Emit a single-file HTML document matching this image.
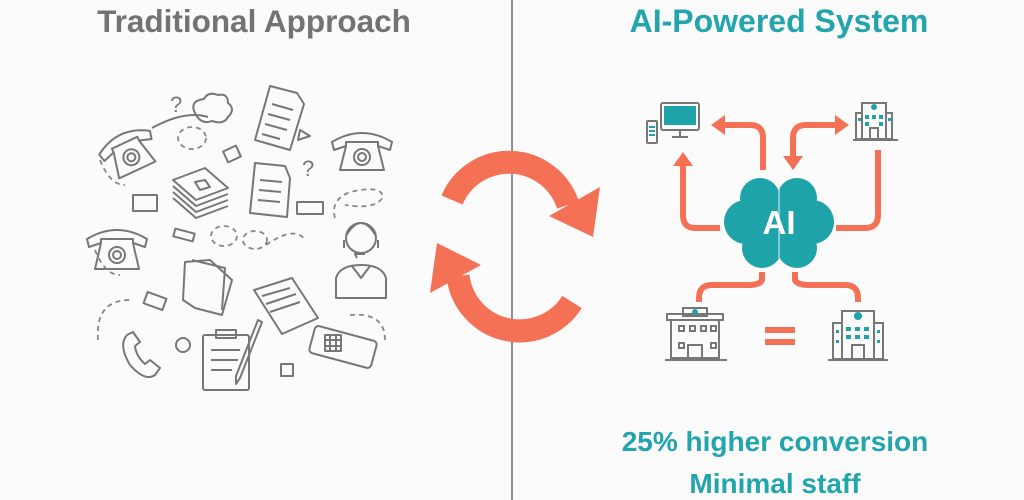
<!DOCTYPE html>
<html><head><meta charset="utf-8"><style>
html,body{margin:0;padding:0;background:#fbfbfb;}
body{width:1024px;height:500px;position:relative;overflow:hidden;font-family:"Liberation Sans",sans-serif;}
.t{position:absolute;font-weight:bold;text-align:center;white-space:nowrap;}
</style></head><body>
<svg width="1024" height="500" style="position:absolute;left:0;top:0">
<line x1="512" y1="0" x2="512" y2="500" stroke="#8c9196" stroke-width="2"/>
<g fill="none" stroke="#f47155" stroke-width="23">
<path d="M452 200 A62 62 0 0 1 568 205"/>
<path d="M572 302 A62 62 0 0 1 458 276"/>
</g>
<g fill="#f47155">
<polygon points="600,187 593,237 549,216"/>
<polygon points="437,243 481,265 430,293"/>
</g>
<g fill="none" stroke="#f47155" stroke-width="6" stroke-linecap="butt">
<path d="M763 170 V138 Q763 125 750 125 H722"/>
<path d="M720 228 H695 Q683 228 683 215 V162"/>
<path d="M793 160 V138 Q793 125 806 125 H838"/>
<path d="M878 150 V215 Q878 228 865 228 H836"/>
<path d="M762 272 V280 Q760 285 748 285 H712 Q699 285 699 298 V302"/>
<path d="M795 272 V280 Q797 285 809 285 H845 Q858 285 858 298 V302"/>
<line x1="765" y1="330" x2="795" y2="330"/><line x1="765" y1="342" x2="795" y2="342"/>
</g>
<g fill="#f47155">
<polygon points="711,125 725,115 725,135"/>
<polygon points="683,152 673,166 693,166"/>
<polygon points="793,170 783,156 803,156"/>
<polygon points="849,125 835,115 835,135"/>
</g>
<g fill="#1ea3a8">
<circle cx="760" cy="198" r="20"/><circle cx="797" cy="198" r="20"/>
<circle cx="746" cy="222" r="22"/><circle cx="812" cy="222" r="22"/>
<circle cx="762" cy="248" r="20"/><circle cx="797" cy="248" r="20"/>
<circle cx="779" cy="222" r="28"/>
</g>
<line x1="779" y1="188" x2="779" y2="258" stroke="#fff" stroke-width="1.5" opacity=".6"/>
<text x="779" y="234" font-family="Liberation Sans" font-weight="bold" font-size="33" fill="#fff" text-anchor="middle">AI</text>
<g fill="none" stroke="#777" stroke-width="2">
<rect x="661" y="103" width="38" height="27" rx="2"/><line x1="672" y1="137" x2="688" y2="137"/><line x1="680" y1="130" x2="680" y2="137"/>
<rect x="647" y="121" width="10" height="22" rx="1"/>
</g>
<rect x="664" y="106" width="32" height="19" fill="#1ea3a8"/>
<g fill="#1ea3a8"><rect x="649" y="126" width="6" height="2"/><rect x="649" y="130" width="6" height="2"/><rect x="649" y="134" width="6" height="2"/></g>
<g fill="none" stroke="#777" stroke-width="2">
<rect x="862" y="103" width="24" height="36"/><rect x="856" y="113" width="6" height="26"/><rect x="886" y="113" width="6" height="26"/><line x1="853" y1="140" x2="898" y2="140"/><rect x="870" y="128" width="8" height="11"/>
<rect x="671" y="320" width="48" height="38"/><rect x="667" y="314" width="56" height="6"/><rect x="683" y="308" width="24" height="8"/><line x1="665" y1="360" x2="727" y2="360"/><rect x="688" y="345" width="14" height="14"/>
<rect x="679" y="326" width="5" height="5"/><rect x="690" y="326" width="5" height="5"/><rect x="701" y="326" width="5" height="5"/><rect x="711" y="326" width="5" height="5"/><rect x="679" y="343" width="5" height="5"/><rect x="711" y="343" width="5" height="5"/>
<rect x="842" y="311" width="32" height="48"/><rect x="833" y="323" width="9" height="36"/><rect x="874" y="323" width="9" height="36"/><line x1="828" y1="360" x2="888" y2="360"/><rect x="852" y="345" width="12" height="14"/>
</g>
<g fill="#1ea3a8">
<rect x="865" y="115" width="4" height="4"/><rect x="872" y="115" width="4" height="4"/><rect x="879" y="115" width="4" height="4"/><rect x="865" y="122" width="4" height="4"/><rect x="879" y="122" width="4" height="4"/><rect x="858" y="118" width="3" height="3"/><rect x="888" y="118" width="3" height="3"/><circle cx="874" cy="107" r="3"/>
<circle cx="695" cy="312" r="3"/>
<circle cx="858" cy="316" r="4"/><rect x="846" y="327" width="5" height="4"/><rect x="855" y="327" width="5" height="4"/><rect x="864" y="327" width="5" height="4"/><rect x="846" y="335" width="5" height="4"/><rect x="855" y="335" width="5" height="4"/><rect x="864" y="335" width="5" height="4"/><rect x="836" y="330" width="3" height="3"/><rect x="836" y="340" width="3" height="3"/><rect x="877" y="330" width="3" height="3"/><rect x="877" y="340" width="3" height="3"/>
</g>
<g fill="none" stroke="#777" stroke-width="2" stroke-linejoin="round">
<g transform="translate(128,150) rotate(-25)"><path d="M-28 -8 Q0 -26 28 -8 L26 0 L14 -4 L14 -8 L-14 -8 L-14 -4 L-26 0 Z"/><path d="M-14 -4 L-20 22 L20 22 L14 -4"/><circle cx="0" cy="8" r="8"/><circle cx="0" cy="8" r="4"/></g>
<g transform="translate(362,148)"><path d="M-30 -6 Q0 -24 30 -6 L28 2 L16 -2 L16 -6 L-16 -6 L-16 -2 L-28 2 Z"/><path d="M-16 -2 L-22 22 L22 22 L16 -2"/><circle cx="0" cy="9" r="8"/><circle cx="0" cy="9" r="4"/></g>
<g transform="translate(117,245)"><path d="M-30 -6 Q0 -24 30 -6 L28 2 L16 -2 L16 -6 L-16 -6 L-16 -2 L-28 2 Z"/><path d="M-16 -2 L-22 24 L22 24 L16 -2"/><circle cx="0" cy="10" r="8"/><circle cx="0" cy="10" r="4"/></g>
<path d="M127 335 Q118 345 130 365 Q145 382 155 375 L160 368 L150 360 L145 364 Q136 356 135 346 L140 342 L133 332 Z"/>
<path d="M270 86 L297 93 L304 104 L290 150 L255 140 Z"/><path d="M272 104 L293 110 M268 114 L290 120 M265 124 L287 130 M262 134 L280 139"/>
<path d="M255 163 L285 166 L290 178 L287 217 L250 213 Z"/><path d="M260 180 L282 182 M259 190 L281 192 M258 200 L280 202"/>
<path d="M173 180 L205 168 L228 188 L196 200 Z"/><path d="M173 186 L196 206 L228 194 M173 192 L196 212 L228 200 M173 198 L196 218 L228 206"/><path d="M195 182 L205 180 L210 187 L200 190 Z"/>
<path d="M185 262 L210 260 L232 280 L222 315 L195 308 L183 300 Z"/><path d="M192 260 L225 268 L222 310"/>
<path d="M254 290 L292 278 L318 318 L282 334 Z"/><path d="M262 296 L290 288 M266 304 L296 294 M270 312 L300 302"/>
<rect x="203" y="335" width="46" height="55" rx="2"/><rect x="216" y="330" width="20" height="8"/><path d="M211 350 H240 M211 360 H238 M211 370 H232"/><path d="M262 322 L240 378 L236 384 L236 376 L258 320 Z"/>
<rect x="311" y="333" width="64" height="28" rx="4" transform="rotate(15 343 347)"/><path d="M325 335 h16 v16 h-16 z M330 335 v16 M336 335 v16 M325 340 h16 M325 346 h16"/>
<path d="M152 128 Q185 110 208 117"/><path d="M196 115 q-8 -14 8 -16 q4 -8 14 -4 q10 -2 10 8 q8 6 0 14 q-4 8 -16 4 q-10 4 -16 -6 z"/>
<circle cx="361" cy="238" r="15"/><path d="M344 240 v8 M378 240 v8 M346 236 Q361 210 376 236"/><path d="M357 258 l-2 -4 h10"/><path d="M336 298 V278 Q340 265 361 265 Q382 265 386 278 V298 Z"/><path d="M352 266 l9 12 l9 -12"/>
<rect x="133" y="195" width="24" height="16"/><rect x="297" y="202" width="26" height="12"/><rect x="174" y="231" width="20" height="8" transform="rotate(15 184 235)"/><rect x="145" y="295" width="20" height="12" transform="rotate(20 155 301)"/><rect x="225" y="148" width="14" height="12" transform="rotate(-25 232 154)"/><rect x="281" y="364" width="12" height="12"/><circle cx="183" cy="345" r="7"/>
<text x="170" y="112" font-size="22" fill="#777" stroke="none">?</text><text x="302" y="176" font-size="22" fill="#777" stroke="none">?</text>
<polygon points="298,140 310,136 300,130"/>
</g>
<g fill="none" stroke="#888" stroke-width="1.8" stroke-dasharray="5 4">
<ellipse cx="192" cy="138" rx="14" ry="11"/>
<ellipse cx="224" cy="236" rx="13" ry="10"/><ellipse cx="255" cy="240" rx="12" ry="9"/><path d="M266 245 Q295 225 305 240"/>
<path d="M335 218 Q330 200 350 192 Q380 185 383 196 Q378 210 345 205"/>
<path d="M98 340 Q95 300 130 300"/><path d="M350 315 Q385 312 385 340"/>
<path d="M100 160 Q110 185 125 185"/><path d="M95 250 Q105 275 120 275"/>
</g>
</svg>
<div class="t" style="left:54px;width:400px;top:3px;font-size:31.5px;color:#737373;">Traditional Approach</div>
<div class="t" style="left:579px;width:400px;top:3px;font-size:32px;color:#22a5ad;">AI-Powered System</div>
<div class="t" style="left:575px;width:400px;top:426px;font-size:28px;color:#22a5ad;">25% higher conversion</div>
<div class="t" style="left:575px;width:400px;top:468px;font-size:28px;color:#22a5ad;">Minimal staff</div>
</body></html>
